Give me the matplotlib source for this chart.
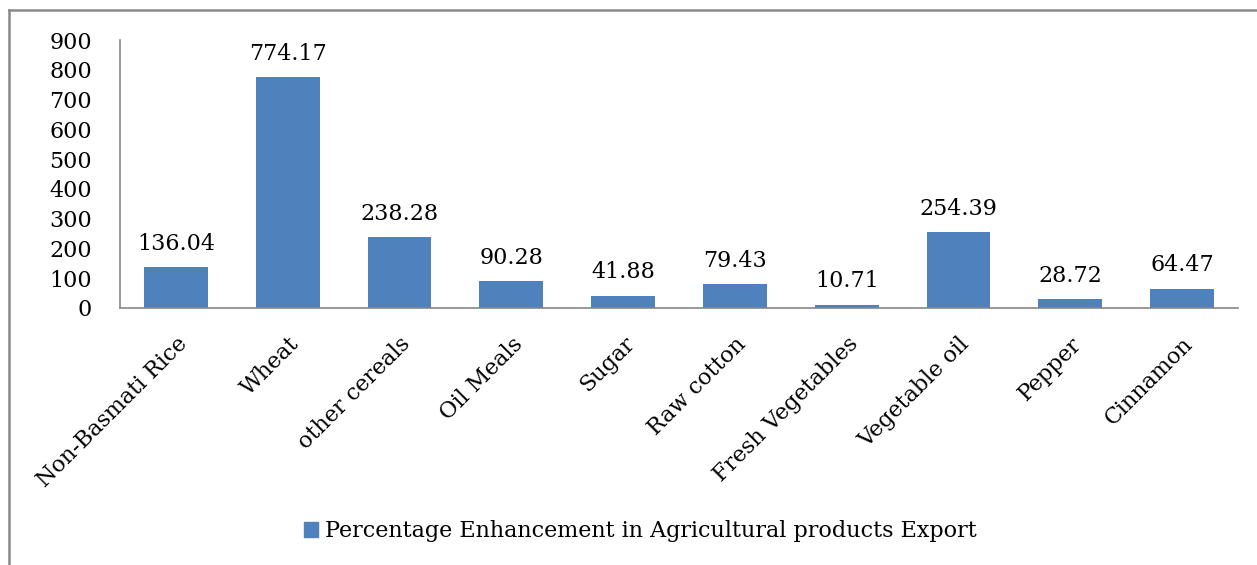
import matplotlib.pyplot as plt
from matplotlib.lines import Line2D
from matplotlib.patches import Patch

categories = ['Non-Basmati Rice', 'Wheat', 'other cereals', 'Oil Meals', 'Sugar',
              'Raw cotton', 'Fresh Vegetables', 'Vegetable oil', 'Pepper', 'Cinnamon']
values = [136.04, 774.17, 238.28, 90.28, 41.88, 79.43, 10.71, 254.39, 28.72, 64.47]
yticks = [0, 100, 200, 300, 400, 500, 600, 700, 800, 900]
legend_label = 'Percentage Enhancement in Agricultural products Export'

BAR_COLOR = '#4f81bd'
W, H = 1257, 565

plt.rcParams['font.family'] = ['DejaVu Serif']

fig = plt.figure(figsize=(W / 100, H / 100), dpi=100)
ax = fig.add_axes([120 / W, 1 - 308 / H, (1238 - 120) / W, (308 - 40) / H])

x = list(range(len(categories)))
ax.bar(x, values, width=0.57, color=BAR_COLOR, zorder=2)
for xi, v in zip(x, values):
    ax.annotate(f'{v:.2f}', (xi, v), xytext=(0, 9), textcoords='offset points',
                ha='center', va='bottom', fontsize=16)

ax.set_xlim(-0.5, len(categories) - 0.5)
ax.set_ylim(0, 900)
ax.set_yticks(yticks)
ax.set_xticks(x)
ax.set_xticklabels(categories, rotation=45, ha='right', rotation_mode='anchor', fontsize=16)
ax.tick_params(axis='x', length=0, pad=18)
ax.tick_params(axis='y', length=0, pad=20, labelsize=16)

for s in ['top', 'right']:
    ax.spines[s].set_visible(False)
for s in ['left', 'bottom']:
    ax.spines[s].set_color('#868686')
    ax.spines[s].set_linewidth(1.2)

# outer chart frame (only left and top edges are inside the picture)
fig.add_artist(Line2D([9 / W, 9 / W], [0, 1 - 10 / H], color='#888888', lw=1.8,
                      transform=fig.transFigure))
fig.add_artist(Line2D([9 / W, 1], [1 - 10 / H, 1 - 10 / H], color='#888888', lw=1.8,
                      transform=fig.transFigure))

fig.legend(handles=[Patch(color=BAR_COLOR, label=legend_label)],
           loc='center', bbox_to_anchor=(640 / W, 1 - 531 / H), frameon=False,
           fontsize=16, handlelength=0.65, handleheight=0.65, handletextpad=0.3)

fig.savefig('out.png', dpi=100, facecolor='white')
